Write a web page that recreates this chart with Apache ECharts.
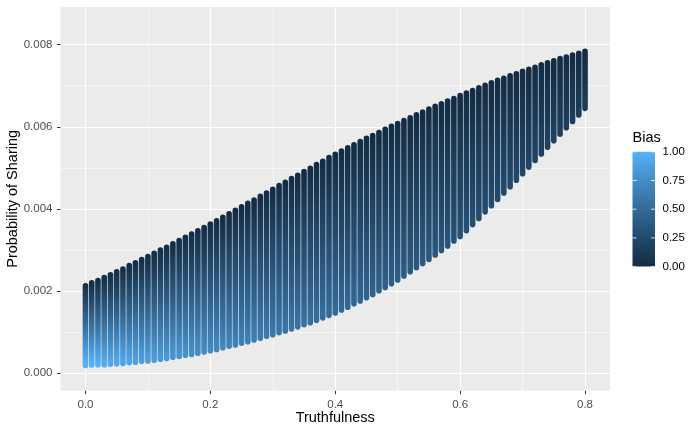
<!DOCTYPE html>
<html>
<head>
<meta charset="utf-8">
<script src="https://cdn.jsdelivr.net/npm/echarts@6/dist/echarts.min.js"></script>
<style>
  html, body { margin: 0; padding: 0; background: #fff; }
  #chart { width: 700px; height: 433px; }
</style>
</head>
<body>
<div id="chart"></div>
<script>
// truthfulness of each column of points
var truthfulness = [
  0.00, 0.01, 0.02, 0.03, 0.04, 0.05, 0.06, 0.07, 0.08, 0.09,
  0.10, 0.11, 0.12, 0.13, 0.14, 0.15, 0.16, 0.17, 0.18, 0.19,
  0.20, 0.21, 0.22, 0.23, 0.24, 0.25, 0.26, 0.27, 0.28, 0.29,
  0.30, 0.31, 0.32, 0.33, 0.34, 0.35, 0.36, 0.37, 0.38, 0.39,
  0.40, 0.41, 0.42, 0.43, 0.44, 0.45, 0.46, 0.47, 0.48, 0.49,
  0.50, 0.51, 0.52, 0.53, 0.54, 0.55, 0.56, 0.57, 0.58, 0.59,
  0.60, 0.61, 0.62, 0.63, 0.64, 0.65, 0.66, 0.67, 0.68, 0.69,
  0.70, 0.71, 0.72, 0.73, 0.74, 0.75, 0.76, 0.77, 0.78, 0.79,
  0.80
]
// probability of sharing at bias = 0 (top of each column)
var shareTop = [
  0.00213, 0.00220, 0.00226, 0.00233, 0.00240, 0.00247, 0.00254, 0.00262, 0.00269, 0.00277,
  0.00284, 0.00292, 0.00300, 0.00307, 0.00315, 0.00323, 0.00331, 0.00339, 0.00347, 0.00355,
  0.00363, 0.00371, 0.00380, 0.00388, 0.00397, 0.00405, 0.00414, 0.00422, 0.00431, 0.00439,
  0.00448, 0.00457, 0.00465, 0.00474, 0.00482, 0.00491, 0.00499, 0.00508, 0.00516, 0.00525,
  0.00533, 0.00541, 0.00549, 0.00556, 0.00564, 0.00572, 0.00579, 0.00586, 0.00594, 0.00601,
  0.00608, 0.00615, 0.00622, 0.00629, 0.00636, 0.00643, 0.00650, 0.00656, 0.00663, 0.00669,
  0.00676, 0.00682, 0.00688, 0.00695, 0.00701, 0.00707, 0.00713, 0.00718, 0.00724, 0.00729,
  0.00735, 0.00740, 0.00745, 0.00751, 0.00756, 0.00761, 0.00766, 0.00770, 0.00775, 0.00779,
  0.00784
]
// lowest probability of sharing in each column
var shareBottom = [
  0.00019, 0.00020, 0.00021, 0.00021, 0.00022, 0.00023, 0.00024, 0.00026, 0.00027, 0.00029,
  0.00030, 0.00032, 0.00034, 0.00036, 0.00039, 0.00041, 0.00044, 0.00046, 0.00049, 0.00052,
  0.00055, 0.00058, 0.00062, 0.00066, 0.00069, 0.00073, 0.00077, 0.00081, 0.00085, 0.00090,
  0.00094, 0.00099, 0.00103, 0.00108, 0.00113, 0.00118, 0.00123, 0.00129, 0.00135, 0.00141,
  0.00147, 0.00154, 0.00161, 0.00169, 0.00176, 0.00184, 0.00192, 0.00201, 0.00209, 0.00218,
  0.00227, 0.00237, 0.00247, 0.00257, 0.00267, 0.00277, 0.00288, 0.00299, 0.00310, 0.00322,
  0.00333, 0.00347, 0.00362, 0.00377, 0.00393, 0.00408, 0.00423, 0.00439, 0.00454, 0.00470,
  0.00486, 0.00502, 0.00518, 0.00534, 0.00550, 0.00566, 0.00582, 0.00598, 0.00613, 0.00629,
  0.00645
]
// bias shown at the bottom of each column
var biasBottom = [
  1.00, 0.99, 0.97, 0.96, 0.94, 0.93, 0.92, 0.90, 0.89, 0.87,
  0.86, 0.85, 0.83, 0.82, 0.80, 0.79, 0.78, 0.76, 0.75, 0.73,
  0.72, 0.71, 0.70, 0.68, 0.67, 0.66, 0.65, 0.64, 0.62, 0.61,
  0.60, 0.59, 0.58, 0.57, 0.56, 0.55, 0.54, 0.53, 0.52, 0.51,
  0.50, 0.49, 0.48, 0.47, 0.46, 0.45, 0.44, 0.43, 0.42, 0.41,
  0.40, 0.39, 0.38, 0.37, 0.37, 0.36, 0.35, 0.34, 0.33, 0.32,
  0.31, 0.30, 0.29, 0.28, 0.27, 0.27, 0.26, 0.25, 0.24, 0.23,
  0.22, 0.21, 0.20, 0.20, 0.19, 0.18, 0.17, 0.16, 0.16, 0.15,
  0.14
]
var xTicks = [0, 0.2, 0.4, 0.6, 0.8]
var xMinor = [0.1, 0.3, 0.5, 0.7]
var yTicks = [0, 0.002, 0.004, 0.006, 0.008]
var yMinor = [0.001, 0.003, 0.005, 0.007]
var biasTicks = [0, 0.25, 0.5, 0.75, 1]

// ggplot default gradient (#132B43 -> #56B1F7, Lab)
var PAL = ['#132B43', '#22496C', '#336A98', '#448DC6', '#56B1F7']
function hex(c) {
  return [parseInt(c.slice(1, 3), 16), parseInt(c.slice(3, 5), 16), parseInt(c.slice(5, 7), 16)]
}
function biasColor(v) {
  v = Math.max(0, Math.min(1, v))
  var p = v * (PAL.length - 1)
  var i = Math.min(Math.floor(p), PAL.length - 2)
  var f = p - i
  var a = hex(PAL[i])
  var b = hex(PAL[i + 1])
  return 'rgb(' + [0, 1, 2].map(function (k) {
    return Math.round(a[k] + (b[k] - a[k]) * f)
  }).join(',') + ')'
}

var FONT = '"Liberation Sans", Arial, Helvetica, sans-serif'
var DOT = 5.6

var data = truthfulness.map(function (x, i) {
  return [x, shareTop[i], shareBottom[i], biasBottom[i]]
})

var chart = echarts.init(document.getElementById('chart'), null, { renderer: 'canvas' })

function axisX(values, major) {
  return {
    type: 'value',
    min: -0.04,
    max: 0.84,
    position: 'bottom',
    axisLine: { show: false, onZero: false },
    axisTick: {
      show: major,
      customValues: values,
      length: 3.5,
      lineStyle: { color: '#333333', width: 1 }
    },
    axisLabel: {
      show: major,
      customValues: values,
      margin: 8,
      color: '#4D4D4D',
      fontSize: 11.5,
      fontFamily: FONT,
      formatter: function (v) { return v.toFixed(1) }
    },
    splitLine: { show: true, lineStyle: { color: '#FFFFFF', width: major ? 1.1 : 0.55 } }
  }
}
function axisY(values, major) {
  return {
    type: 'value',
    min: -0.000424,
    max: 0.008917,
    position: 'left',
    axisLine: { show: false, onZero: false },
    axisTick: {
      show: major,
      customValues: values,
      length: 3.5,
      lineStyle: { color: '#333333', width: 1 }
    },
    axisLabel: {
      show: major,
      customValues: values,
      margin: 8,
      color: '#4D4D4D',
      fontSize: 11.5,
      fontFamily: FONT,
      formatter: function (v) { return v.toFixed(3) }
    },
    splitLine: { show: true, lineStyle: { color: '#FFFFFF', width: major ? 1.1 : 0.55 } }
  }
}

var xMain = axisX(xTicks, true)
xMain.name = 'Truthfulness'
xMain.nameLocation = 'middle'
xMain.nameGap = 20
xMain.nameMoveOverlap = false
xMain.nameTextStyle = { color: '#000000', fontSize: 14.5, fontFamily: FONT }
var yMain = axisY(yTicks, true)
yMain.name = 'Probability of Sharing'
yMain.nameLocation = 'middle'
yMain.nameGap = 40
yMain.nameMoveOverlap = false
yMain.nameTextStyle = { color: '#000000', fontSize: 14.5, fontFamily: FONT }

// colour bar for the legend
var barX = 632.5
var barTop = 151.8
var barH = 114.8
var barW = 22.5
var legend = [
  {
    type: 'text',
    style: { x: barX, y: 138, text: 'Bias', font: '14.5px ' + FONT, fill: '#000000', verticalAlign: 'middle' }
  },
  {
    type: 'rect',
    shape: { x: barX, y: barTop, width: barW, height: barH },
    style: {
      fill: {
        type: 'linear', x: 0, y: 1, x2: 0, y2: 0,
        colorStops: PAL.map(function (c, i) { return { offset: i / (PAL.length - 1), color: c } })
      }
    }
  }
]
biasTicks.forEach(function (b) {
  var y = barTop + barH * (1 - b)
  legend.push({
    type: 'line',
    shape: { x1: barX, y1: y, x2: barX + 4, y2: y },
    style: { stroke: '#FFFFFF', lineWidth: 0.8 }
  })
  legend.push({
    type: 'line',
    shape: { x1: barX + barW - 4, y1: y, x2: barX + barW, y2: y },
    style: { stroke: '#FFFFFF', lineWidth: 0.8 }
  })
  legend.push({
    type: 'text',
    style: {
      x: barX + barW + 7.5, y: y, text: b.toFixed(2),
      font: '11.5px ' + FONT, fill: '#000000', verticalAlign: 'middle'
    }
  })
})

var options = {
  animation: false,
  backgroundColor: '#FFFFFF',
  grid: {
    left: 60.5,
    top: 7,
    width: 549.5,
    height: 383.7,
    show: true,
    backgroundColor: '#EBEBEB',
    borderWidth: 0,
    outerBoundsMode: 'none'
  },
  xAxis: [xMain, axisX(xMinor, false)],
  yAxis: [yMain, axisY(yMinor, false)],
  graphic: legend,
  series: [{
    type: 'custom',
    xAxisIndex: 0,
    yAxisIndex: 0,
    data: data,
    renderItem: function (params, api) {
      var x = api.value(0)
      var p1 = api.coord([x, api.value(1)])
      var p2 = api.coord([x, api.value(2)])
      var bMax = api.value(3)
      var span = p2[1] - p1[1]
      var h = span + DOT
      // colours along the column, bias 0 at top to bias at the bottom
      // (later, higher bias points overlap the ones just above them)
      var stops = []
      ;[0, 0.25, 0.5, 0.75, 1].forEach(function (t) {
        stops.push({ offset: (t * span) / h, color: biasColor(bMax * t) })
      })
      stops.push({ offset: 1, color: biasColor(bMax) })
      return {
        type: 'rect',
        shape: { x: p1[0] - DOT / 2, y: p1[1] - DOT / 2, width: DOT, height: h, r: DOT / 2 },
        style: {
          fill: { type: 'linear', x: 0, y: 0, x2: 0, y2: 1, colorStops: stops }
        }
      }
    }
  }]
}
chart.setOption(options)
</script>
</body>
</html>
